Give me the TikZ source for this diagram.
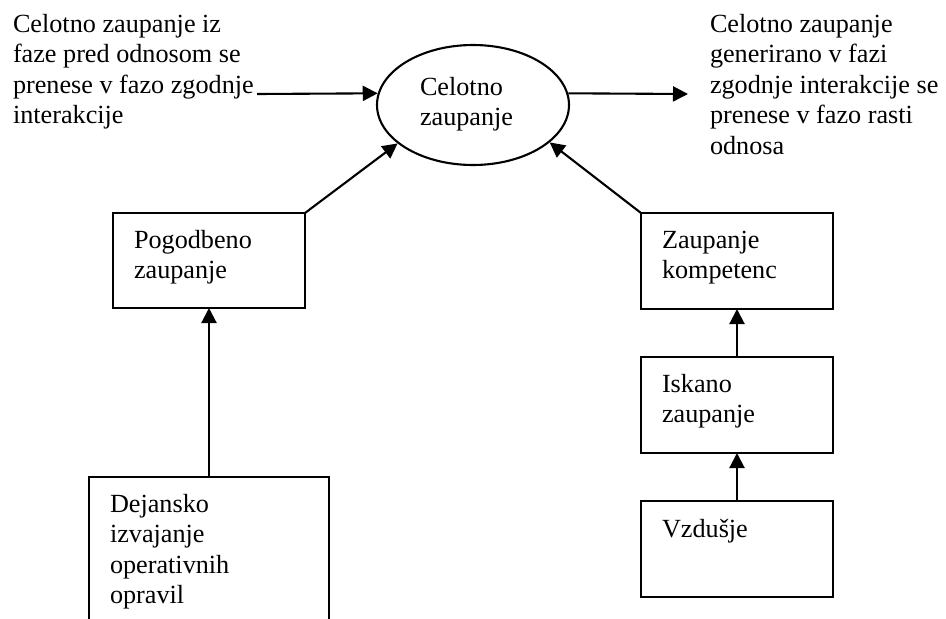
\documentclass[tikz,border=0pt]{standalone}
\usepackage{fontspec}
\setmainfont{Liberation Serif}
\usetikzlibrary{arrows.meta,shapes.geometric}
\begin{document}
\begin{tikzpicture}[x=1pt,y=-1pt,
  line width=2.1pt,
  % multi-line texts are anchored at the baseline of their last line
  txt/.style={font=\fontsize{26.2}{30.5}\selectfont, inner sep=0pt, outer sep=0pt, anchor=base west, align=left},
  boxnode/.style={draw, rectangle, minimum width=192pt, minimum height=96pt, inner sep=0pt, outer sep=0pt},
  flow/.style={-{Triangle[length=15pt,width=15pt]}}]
\useasboundingbox (0,0) rectangle (946,619);
\clip (0,0) rectangle (946,619);

% central ellipse
\node[draw, ellipse, minimum width=192pt, minimum height=120pt, inner sep=0pt] (E) at (473,105) {};
\node[txt] (Et) at (420,125.5) {Celotno\\zaupanje};

% side notes
\node[txt] (Lt) at (13,123.5) {Celotno zaupanje iz\\faze pred odnosom se\\prenese v fazo zgodnje\\interakcije};
\node[txt] (Rt) at (710,154) {Celotno zaupanje\\generirano v fazi\\zgodnje interakcije se\\prenese v fazo rasti\\odnosa};
\coordinate (inL) at (257,94);
\coordinate (outR) at (688,94);

% boxes
\node[boxnode, minimum height=95pt] (P) at (209,260.5) {};
\node[txt] (Pt) at ([shift={(21,65.5)}]P.north west) {Pogodbeno\\zaupanje};
\node[boxnode, minimum width=240pt, minimum height=200pt] (D) at (209,577) {};
\node[txt] (Dt) at ([shift={(21,126.5)}]D.north west) {Dejansko\\izvajanje\\operativnih\\opravil};
\node[boxnode] (K) at (737,261) {};
\node[txt] (Kt) at ([shift={(21,65.5)}]K.north west) {Zaupanje\\kompetenc};
\node[boxnode] (I) at (737,405) {};
\node[txt] (It) at ([shift={(21,65.5)}]I.north west) {Iskano\\zaupanje};
\node[boxnode] (V) at (737,549) {};
\node[txt] (Vt) at ([shift={(21,36)}]V.north west) {Vzdušje};

% connectors
\draw[flow] (inL) -- (E.173);
\draw[flow] (E.7) -- (outR);
\draw[flow] (P.north east) -- (E.207);
\draw[flow] (K.north west) -- (E.-26);
\draw[flow] (D.north) -- (P.south);
\draw[flow] (I.north) -- (K.south);
\draw[flow] (V.north) -- (I.south);
\end{tikzpicture}
\end{document}
